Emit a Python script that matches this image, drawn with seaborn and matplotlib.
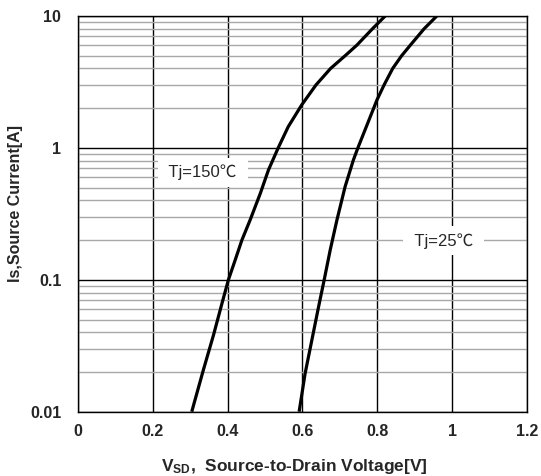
import matplotlib
matplotlib.use("Agg")
import matplotlib.pyplot as plt
import seaborn as sns
import pandas as pd
from matplotlib.ticker import LogLocator, FixedLocator, NullFormatter, NullLocator

# ---- data ----
v_150 = [0.304, 0.335, 0.362, 0.384, 0.402, 0.420, 0.438, 0.460, 0.487, 0.509,
         0.535, 0.562, 0.598, 0.636, 0.675, 0.714, 0.745, 0.787, 0.821]
i_150 = [0.010, 0.0207, 0.038, 0.065, 0.100, 0.141, 0.200, 0.284, 0.450, 0.680,
         1.000, 1.450, 2.120, 3.000, 4.000, 5.000, 6.000, 8.000, 10.00]

v_25 = [0.591, 0.607, 0.625, 0.643, 0.658, 0.674, 0.692, 0.714, 0.736, 0.748,
        0.799, 0.818, 0.841, 0.865, 0.888, 0.925, 0.959]
i_25 = [0.010, 0.0195, 0.0349, 0.0625, 0.100, 0.168, 0.284, 0.510, 0.810, 1.000,
        2.310, 3.000, 4.000, 5.000, 6.000, 8.000, 10.00]

x_ticks = [0, 0.2, 0.4, 0.6, 0.8, 1.0, 1.2]
x_tick_labels = ["0", "0.2", "0.4", "0.6", "0.8", "1", "1.2"]
y_ticks = [0.01, 0.1, 1, 10]
y_tick_labels = ["0.01", "0.1", "1", "10"]

label_150 = "Tj=150℃"
label_25 = "Tj=25℃"
x_label = r"V$_{SD}$,  Source-to-Drain Voltage[V]"
y_label = "Is,Source Current[A]"

sns.set_style("white")
plt.rcParams["font.family"] = ["Liberation Sans", "Noto Sans CJK SC", "DejaVu Sans"]
plt.rcParams["mathtext.fontset"] = "custom"
plt.rcParams["mathtext.rm"] = "Liberation Sans:bold"
plt.rcParams["mathtext.it"] = "Liberation Sans:bold"
plt.rcParams["mathtext.bf"] = "Liberation Sans:bold"
plt.rcParams["mathtext.default"] = "bf"

df = pd.concat([
    pd.DataFrame({"V": v_150, "I": i_150, "T": label_150}),
    pd.DataFrame({"V": v_25, "I": i_25, "T": label_25}),
])

fig = plt.figure(figsize=(5.41, 4.76), dpi=100)
ax = fig.add_axes([78 / 541, 1 - 411.7 / 476, (527 - 78) / 541, (411.7 - 16) / 476])

sns.lineplot(data=df, x="V", y="I", units="T", estimator=None, sort=False,
             color="black", linewidth=2.3, ax=ax, legend=False, zorder=5,
             solid_joinstyle="round", solid_capstyle="butt")

ax.set_yscale("log")
ax.set_xlim(0, 1.2)
ax.set_ylim(0.01, 10)

ax.xaxis.set_major_locator(FixedLocator(x_ticks))
ax.set_xticklabels(x_tick_labels)
ax.xaxis.set_minor_locator(NullLocator())
ax.yaxis.set_major_locator(FixedLocator(y_ticks))
ax.set_yticklabels(y_tick_labels)
ax.yaxis.set_minor_locator(LogLocator(base=10, subs=range(2, 10)))
ax.yaxis.set_minor_formatter(NullFormatter())

ax.grid(which="major", axis="both", color="black", linewidth=1.0, zorder=1)
ax.grid(which="minor", axis="y", color="#a8a8a8", linewidth=1.0, zorder=1)
ax.set_axisbelow(True)

ax.tick_params(axis="both", which="both", length=0)
ax.tick_params(axis="y", pad=12, labelsize=11.5)
ax.tick_params(axis="x", pad=9, labelsize=11.5)
for lab in ax.get_xticklabels() + ax.get_yticklabels():
    lab.set_fontweight("bold")

for sp in ax.spines.values():
    sp.set_color("black")
    sp.set_linewidth(1.0)
    sp.set_visible(True)

ax.set_xlabel(x_label, fontsize=12.5, fontweight="bold")
ax.xaxis.label.set_va("center")
ax.xaxis.set_label_coords(0.482, -0.139)
ax.set_ylabel(y_label, fontsize=11.5, fontweight="bold")
ax.yaxis.label.set_va("center")
ax.yaxis.label.set_rotation_mode("anchor")
ax.yaxis.set_label_coords(-0.140, 0.527)

box = dict(facecolor="white", edgecolor="none", boxstyle="square,pad=0.4")
ax.text(0.334, 0.65, " " + label_150 + " ", ha="center", va="center", fontsize=12,
        bbox=box, zorder=4)
ax.text(0.977, 0.198, " " + label_25 + " ", ha="center", va="center", fontsize=12,
        bbox=box, zorder=4)

fig.savefig("out.png", dpi=100)
